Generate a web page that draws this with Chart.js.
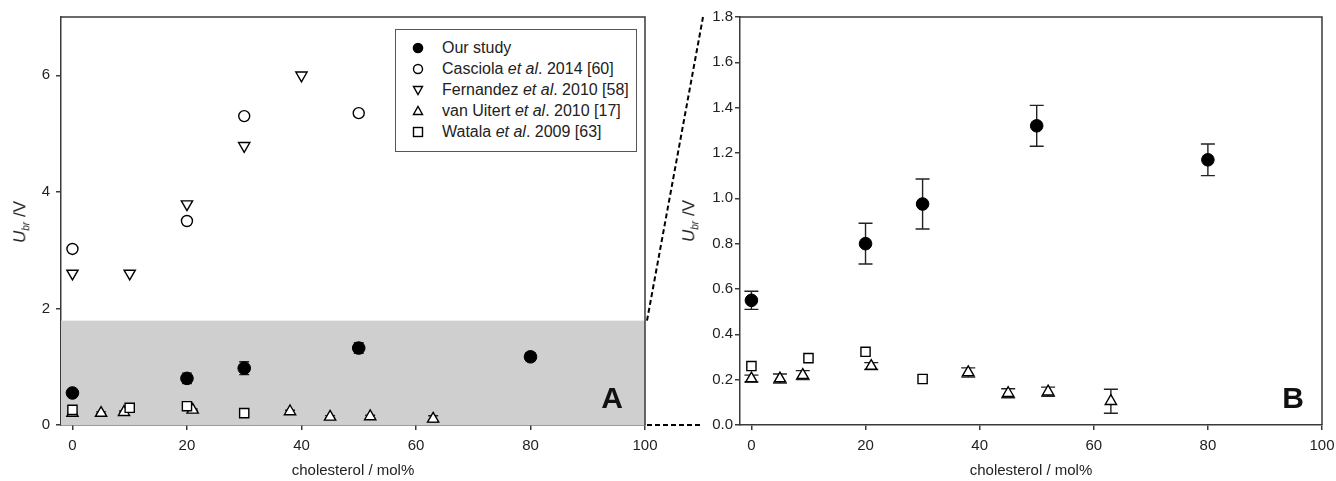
<!DOCTYPE html>
<html>
<head>
<meta charset="utf-8">
<script src="https://cdn.jsdelivr.net/npm/chart.js@4.4.1/dist/chart.umd.min.js"></script>
<style>
  body { margin: 0; background: #fff; font-family: "Liberation Sans", Arial, sans-serif; }
  #wrap { position: relative; width: 1336px; height: 481px; overflow: hidden; }
  canvas { position: absolute; top: 0; }
  #left { left: 0; }
  #right { left: 705px; }
  .ytitle { position: absolute; font-size: 17px; color: #222; transform: translate(-50%, -50%) rotate(-90deg); white-space: nowrap; }
  .ytitle sub { font-size: 10px; font-style: italic; }
  .panel { position: absolute; font-size: 30px; font-weight: bold; color: #111; transform: translate(-50%, -50%); }
  #legend { position: absolute; left: 395px; top: 29px; width: 242px; height: 123px; border: 1px solid #555; background: #fff; box-sizing: border-box; }
  #legend .row { position: absolute; left: 16px; height: 20px; line-height: 20px; font-size: 16px; color: #222; white-space: nowrap; }
  #legend svg { position: absolute; left: 0; top: 4px; }
  #legend span.t { position: absolute; left: 30px; }
</style>
</head>
<body>
<div id="wrap">
  <canvas id="left" width="705" height="481"></canvas>
  <canvas id="right" width="631" height="481"></canvas>

  <div class="ytitle" style="left:21px; top:222px;"><i>U</i><sub>br</sub> /V</div>
  <div class="ytitle" style="left:690px; top:221px;"><i>U</i><sub>br</sub> /V</div>
  <div class="panel" style="left:612px; top:398px;">A</div>
  <div class="panel" style="left:1293px; top:398px;">B</div>

  <div id="legend">
    <div class="row" style="top:8px;"><svg width="12" height="12"><circle cx="6" cy="6" r="5.3" fill="#000"/></svg><span class="t">Our study</span></div>
    <div class="row" style="top:29px;"><svg width="12" height="12"><circle cx="6" cy="6" r="4.5" fill="none" stroke="#000" stroke-width="1.4"/></svg><span class="t">Casciola <i>et al</i>. 2014 [60]</span></div>
    <div class="row" style="top:50px;"><svg width="12" height="12"><polygon points="1.5,2.5 10.5,2.5 6,10.5" fill="none" stroke="#000" stroke-width="1.4"/></svg><span class="t">Fernandez <i>et al</i>. 2010 [58]</span></div>
    <div class="row" style="top:71px;"><svg width="12" height="12"><polygon points="1.5,9.5 10.5,9.5 6,1.5" fill="none" stroke="#000" stroke-width="1.4"/></svg><span class="t">van Uitert <i>et al</i>. 2010 [17]</span></div>
    <div class="row" style="top:92px;"><svg width="12" height="12"><rect x="1.5" y="1.5" width="9" height="9" fill="none" stroke="#000" stroke-width="1.4"/></svg><span class="t">Watala <i>et al</i>. 2009 [63]</span></div>
  </div>
</div>

<script>
// Our study
const ourX = [0, 20, 30, 50, 80];
const ourY = [0.55, 0.80, 0.975, 1.32, 1.17];
const ourErr = [0.04, 0.09, 0.11, 0.09, 0.07];

// Casciola et al. 2014
const casX = [0, 20, 30, 50];
const casY = [3.02, 3.50, 5.30, 5.35];

// Fernandez et al. 2010
const ferX = [0, 10, 20, 30, 40];
const ferY = [2.60, 2.60, 3.79, 4.79, 6.0];

// van Uitert et al. 2010
const vanX = [0, 5, 9, 21, 38, 45, 52, 63];
const vanY = [0.205, 0.205, 0.22, 0.26, 0.232, 0.14, 0.147, 0.105];
const vanErr = [0.015, 0.02, 0.02, 0.015, 0.02, 0.02, 0.02, 0.053];

// Watala et al. 2009
const watX = [0, 10, 20, 30];
const watY = [0.26, 0.295, 0.323, 0.203];

// zoomed region shown in panel B
const zoomTop = 1.79;

const xTicks = [0, 20, 40, 60, 80, 100];
const leftYTicks = [0, 2, 4, 6];
const rightYTicks = [0, 0.2, 0.4, 0.6, 0.8, 1.0, 1.2, 1.4, 1.6, 1.8];

const axisColor = "#3a3a3a";
const textColor = "#222";

function points(xs, ys) {
    return xs.map((x, i) => ({ x: x, y: ys[i] }));
}

function makeDatasets(all) {
    const sets = [];
    sets.push({ label: "Watala", data: points(watX, watY), pointStyle: "rect", pointRadius: 6.5,
        backgroundColor: "#fff", borderColor: "#000", borderWidth: 1.4 });
    sets.push({ label: "van Uitert", data: points(vanX, vanY), errs: vanErr, pointStyle: "triangle", pointRadius: 6.5,
        backgroundColor: "#fff", borderColor: "#000", borderWidth: 1.4 });
    if (all) {
        sets.push({ label: "Fernandez", data: points(ferX, ferY), pointStyle: "triangle", rotation: 180, pointRadius: 6.5,
            backgroundColor: "#fff", borderColor: "#000", borderWidth: 1.4 });
        sets.push({ label: "Casciola", data: points(casX, casY), pointStyle: "circle", pointRadius: 5.5,
            backgroundColor: "#fff", borderColor: "#000", borderWidth: 1.4 });
    }
    sets.push({ label: "Our study", data: points(ourX, ourY), errs: ourErr, pointStyle: "circle", pointRadius: 6.3,
        backgroundColor: "#000", borderColor: "#000", borderWidth: 1 });
    return sets;
}

// Gray zoom band, error bars, frame and connecting dashes
const decorPlugin = {
    id: "decor",
    beforeDatasetsDraw(chart, args, opts) {
        const ctx = chart.ctx;
        const area = chart.chartArea;
        const xs = chart.scales.x;
        const ys = chart.scales.y;
        ctx.save();
        if (opts.band) {
            const yt = ys.getPixelForValue(zoomTop);
            ctx.fillStyle = "#cfcfcf";
            ctx.fillRect(area.left, yt, area.right - area.left, area.bottom - yt);
        }
        ctx.strokeStyle = "#222";
        ctx.lineWidth = 1.4;
        chart.data.datasets.forEach((ds) => {
            if (!ds.errs) return;
            ds.data.forEach((p, i) => {
                const px = xs.getPixelForValue(p.x);
                const y1 = ys.getPixelForValue(p.y + ds.errs[i]);
                const y2 = ys.getPixelForValue(p.y - ds.errs[i]);
                ctx.beginPath();
                ctx.moveTo(px, y1); ctx.lineTo(px, y2);
                ctx.moveTo(px - opts.cap, y1); ctx.lineTo(px + opts.cap, y1);
                ctx.moveTo(px - opts.cap, y2); ctx.lineTo(px + opts.cap, y2);
                ctx.stroke();
            });
        });
        ctx.restore();
    },
    afterDraw(chart, args, opts) {
        const ctx = chart.ctx;
        const area = chart.chartArea;
        ctx.save();
        ctx.strokeStyle = axisColor;
        ctx.lineWidth = 1.5;
        ctx.beginPath();
        ctx.moveTo(area.left, area.top);
        ctx.lineTo(area.right, area.top);
        ctx.lineTo(area.right, area.bottom);
        ctx.stroke();
        if (opts.band) {
            const yt = chart.scales.y.getPixelForValue(zoomTop);
            ctx.strokeStyle = "#000";
            ctx.lineWidth = 2;
            ctx.setLineDash([5, 3]);
            ctx.beginPath();
            ctx.moveTo(area.right + 2, yt);
            ctx.lineTo(703, area.top);
            ctx.moveTo(area.right + 2, area.bottom);
            ctx.lineTo(700, area.bottom);
            ctx.stroke();
        }
        ctx.restore();
    },
};

function makeChart(id, cfg) {
    return new Chart(document.getElementById(id), {
        type: "scatter",
        data: { datasets: makeDatasets(cfg.all) },
        plugins: [decorPlugin],
        options: {
            responsive: false,
            animation: false,
            devicePixelRatio: 1,
            layout: { padding: { left: 0, top: 17, right: cfg.padRight, bottom: 0 } },
            plugins: {
                legend: { display: false },
                tooltip: { enabled: false },
                decor: { band: cfg.band, cap: cfg.cap },
            },
            scales: {
                x: {
                    type: "linear",
                    min: -2,
                    max: 100,
                    afterBuildTicks: (s) => { s.ticks = xTicks.map((v) => ({ value: v })); },
                    afterFit: (s) => { s.height = 56; s.paddingLeft = 0; s.paddingRight = 0; },
                    ticks: { color: textColor, font: { size: 15, family: "Liberation Sans" }, padding: 7, maxRotation: 0 },
                    grid: { drawOnChartArea: false, drawTicks: true, tickLength: 5, color: axisColor, lineWidth: 1.5 },
                    border: { display: true, color: axisColor, width: 1.5 },
                    title: { display: true, text: "cholesterol / mol%", color: textColor,
                        font: { size: 15, family: "Liberation Sans" }, padding: { top: 0, bottom: 1 } },
                },
                y: {
                    type: "linear",
                    min: 0,
                    max: cfg.yMax,
                    afterBuildTicks: (s) => { s.ticks = cfg.yTicks.map((v) => ({ value: v })); },
                    afterFit: (s) => { s.width = cfg.yWidth; s.paddingTop = 0; s.paddingBottom = 0; },
                    ticks: { color: textColor, font: { size: 15, family: "Liberation Sans" }, padding: cfg.yPad,
                        callback: cfg.yFmt },
                    grid: { drawOnChartArea: false, drawTicks: true, tickLength: 5, color: axisColor, lineWidth: 1.5 },
                    border: { display: true, color: axisColor, width: 1.5 },
                },
            },
        },
    });
}

makeChart("left", {
    all: true, band: true, padRight: 60, yMax: 7, yTicks: leftYTicks, yWidth: 61, yPad: 6, cap: 5,
    yFmt: (v) => String(v),
});

makeChart("right", {
    all: false, band: false, padRight: 14, yMax: 1.8, yTicks: rightYTicks, yWidth: 35, yPad: 2, cap: 7,
    yFmt: (v) => Number(v).toFixed(1),
});
</script>
</body>
</html>
